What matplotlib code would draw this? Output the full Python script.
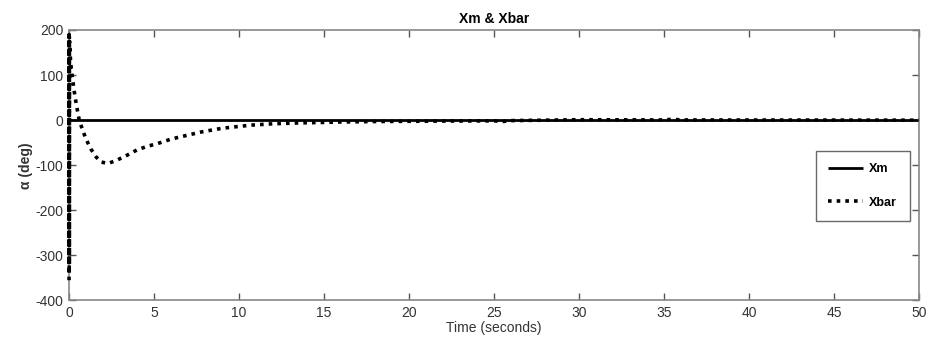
import matplotlib
matplotlib.use("Agg")
import matplotlib.pyplot as plt

plt.rcParams['font.family'] = ['Liberation Sans', 'DejaVu Sans']
plt.rcParams['axes.unicode_minus'] = False

# Reference model output (stays at zero)
t_xm = [0, 50]
xm = [0, 0]

# Adaptive estimate response (fast initial swing, then slow decay to zero)
t_xbar = [0.0, 0.0, 0.005, 0.01, 0.015, 0.02, 0.03, 0.06, 0.1, 0.18, 0.3,
          0.45, 0.6, 0.8, 1.0, 1.3, 1.6, 1.9, 2.3, 2.8, 3.4, 4.0, 4.6, 5.2,
          6.0, 7.0, 7.8, 9.0, 10.7, 12.0, 13.6, 15.0, 16.0, 18.0, 20.0, 22.0,
          25.0, 25.5, 26.0, 30.0, 35.0, 35.5, 36.0, 40.0, 45.0, 50.0]
xbar = [-355, -355, 190, -340, 185, -320, 175, 150, 125, 100, 65,
        30, 0, -22, -42, -65, -82, -93, -96, -89, -78, -66, -58, -52,
        -42, -33, -26, -18, -11, -8, -6, -5, -4, -3, -2.5, -2,
        -1.5, -3, -1, 1, 0.5, 2, 0.5, 0.3, 0.2, 0]

xticks = [0, 5, 10, 15, 20, 25, 30, 35, 40, 45, 50]
yticks = [-400, -300, -200, -100, 0, 100, 200]

fig = plt.figure(figsize=(9.28, 3.48), dpi=100)
ax = fig.add_axes([0.0744, 0.1365, 0.9159, 0.7773])

ax.plot(t_xm, xm, color='black', lw=2.0, solid_capstyle='butt', label='Xm')
ax.plot(t_xbar, xbar, color='black', lw=2.6, linestyle=(0, (1.0, 1.4)),
        dash_capstyle='butt', label='Xbar', clip_on=False, zorder=3)

ax.set_xlim(0, 50)
ax.set_ylim(-400, 200)
ax.set_xticks(xticks)
ax.set_yticks(yticks)

gray = '#555555'
for s in ax.spines.values():
    s.set_color('#888888')
    s.set_linewidth(1.2)
ax.tick_params(direction='in', length=5, width=1, color=gray,
               labelcolor='#333333', labelsize=10, top=True, right=True, pad=4)

ax.set_title('Xm & Xbar', fontsize=10, fontweight='bold', pad=5)
ax.set_xlabel('Time (seconds)', fontsize=10, color='#333333', labelpad=1)
ax.set_ylabel('α (deg)', fontsize=10, fontweight='bold', color='#333333', labelpad=2)

leg = ax.legend(loc='center right', bbox_to_anchor=(0.989, 0.423), fontsize=9,
                frameon=True, fancybox=False, handlelength=2.8, handletextpad=0.5,
                labelspacing=1.7, borderpad=1.0, borderaxespad=0)
leg.get_frame().set_edgecolor('#444444')
leg.get_frame().set_linewidth(1.0)
for txt in leg.get_texts():
    txt.set_fontweight('bold')

fig.savefig('out.png', dpi=100)
